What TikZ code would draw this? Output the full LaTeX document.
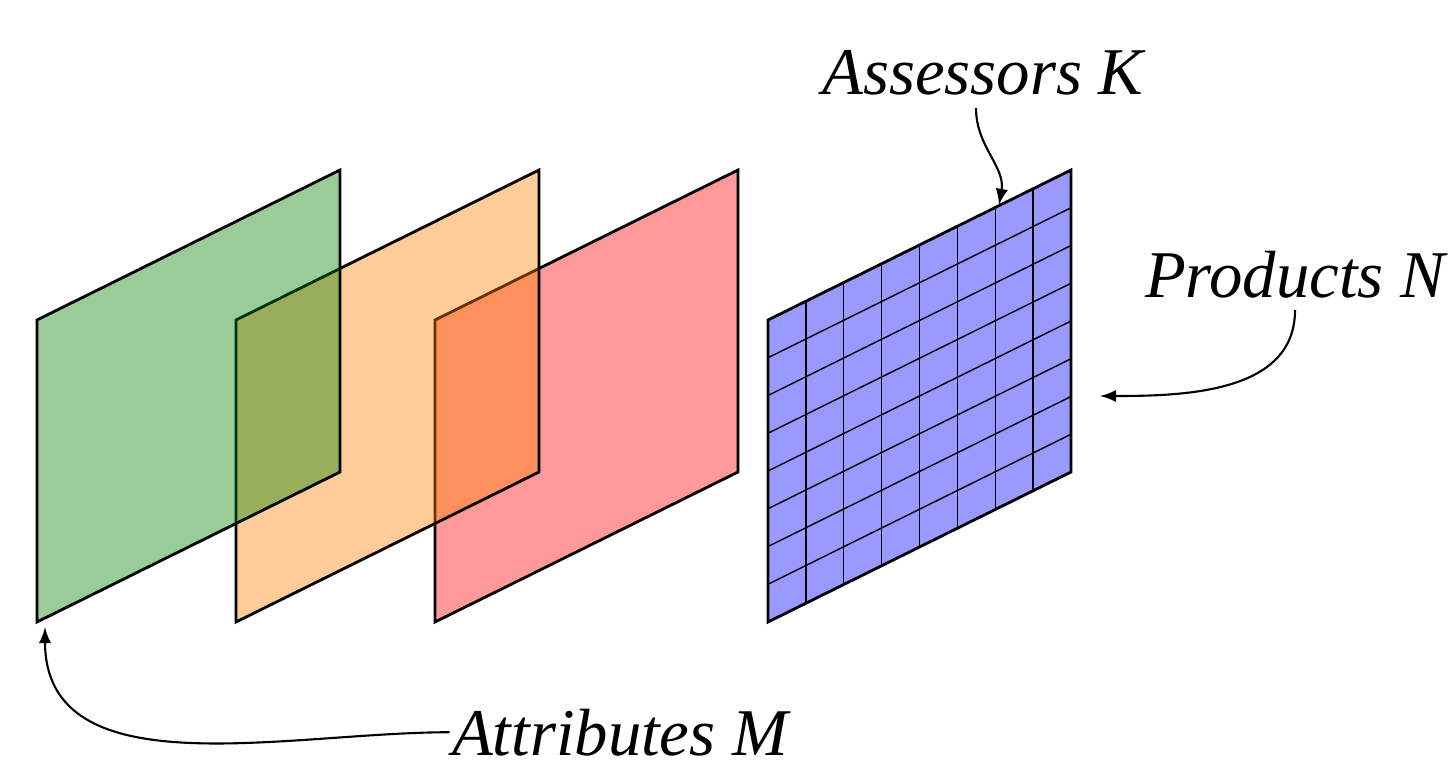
\documentclass[tikz,border=0pt]{standalone}
\usepackage{fontspec}
\setmainfont{Liberation Serif}
\begin{document}
\begin{tikzpicture}[every node/.style={font=\fontsize{19}{23}\selectfont\itshape},
  plane/.style={draw, thick, fill opacity=0.4},
  grid line/.style={thin},
  callout/.style={->, >=latex, semithick}]
  \useasboundingbox (0,0) rectangle (14.55,7.67);

  % assessors x products plane
  \fill[blue, fill opacity=0.4] (7.68,1.45) -- ++(0,3.02) -- ++(3.03,1.5) -- ++(0,-3.02) -- cycle;
  \foreach \i in {1,...,7} {
    \draw[grid line] (7.68+\i*3.03/8, 1.45+\i*1.5/8) -- ++(0,3.02);
    \draw[grid line] (7.68, 1.45+\i*3.02/8) -- ++(3.03,1.5);
  }
  \draw[thick] (7.68,1.45) -- ++(0,3.02) -- ++(3.03,1.5) -- ++(0,-3.02) -- cycle;

  % attribute planes, back to front
  \draw[plane, fill=red] (4.35,1.45) -- ++(0,3.02) -- ++(3.03,1.5) -- ++(0,-3.02) -- cycle;
  \draw[plane, fill=orange] (2.36,1.45) -- ++(0,3.02) -- ++(3.03,1.5) -- ++(0,-3.02) -- cycle;
  \draw[plane, fill=green!50!black] (0.37,1.45) -- ++(0,3.02) -- ++(3.03,1.5) -- ++(0,-3.02) -- cycle;

  \coordinate (corner) at (0.45,1.40);
  \coordinate (rowedge) at (11.00,3.71);
  \coordinate (topedge) at (9.99,5.62);

  \node[anchor=base] (assessors) at (9.83,6.72) {Assessors K};
  \node[anchor=base] (products) at (12.95,4.70) {Products N};
  \node[anchor=base] (attributes) at (6.20,0.12) {Attributes M};

  \draw[callout] ([xshift=-0.7mm]assessors.south) to[out=-90, in=80] (topedge);
  \draw[callout] (products.south) to[out=-90, in=0] (rowedge);
  \draw[callout] ([xshift=1mm]attributes.west) to[out=180, in=-90] (corner);
\end{tikzpicture}
\end{document}
